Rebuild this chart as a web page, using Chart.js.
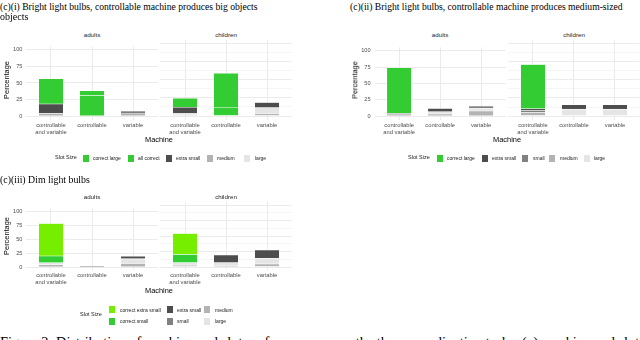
<!DOCTYPE html>
<html><head><meta charset="utf-8">
<script src="https://cdn.jsdelivr.net/npm/chart.js@4.4.0/dist/chart.umd.min.js"></script>
<style>
html,body{margin:0;padding:0;background:#fff;width:640px;height:340px;overflow:hidden;position:relative;font-family:"Liberation Sans",Arial,sans-serif;}
.t{position:absolute;white-space:nowrap;line-height:1;}
.serif{font-family:"Liberation Serif","Times New Roman",serif;color:#000;}
canvas{position:absolute;}
.key{position:absolute;width:6px;height:7px;}
</style></head><body>
<script>
// ---------- data ----------
const machines = [['controllable', 'and variable'], 'controllable', 'variable'];
const groups = ['adults', 'children'];
// each array: adults [c&v, controllable, variable], children [c&v, controllable, variable]
// Panel (i) Bright light bulbs, big objects
const p1CorrectLarge = [38, 7.5, 0, 12.5, 47, 0];
const p1AllCorrect   = [0, 31, 0, 0, 12, 0];
const p1ExtraSmall   = [14.5, 0, 2.5, 8.5, 0, 7];
const p1Medium       = [4, 0, 5, 2, 0, 3.5];
const p1Large        = [0, 0, 0, 1.5, 0, 8];
// Panel (ii) Bright light bulbs, medium-sized objects
const p2CorrectLarge = [69.5, 0, 0, 61.5, 0, 0];
const p2ExtraSmall   = [2, 5, 3, 2.5, 6, 6];
const p2Small        = [0, 0, 0, 2.5, 0, 0];
const p2Medium       = [2.5, 3.5, 8, 5, 0, 0];
const p2Large        = [0, 3.5, 4.5, 0, 9.5, 9.5];
// Panel (iii) Dim light bulbs
const p3CorrectExtraSmall = [58, 0, 0, 34, 0, 0];
const p3CorrectSmall      = [12, 0, 0, 13, 0, 0];
const p3ExtraSmall        = [0, 0, 4.5, 0, 12.5, 13.5];
const p3Small             = [0, 2, 0, 0, 0, 0];
const p3Medium            = [4.5, 0, 7, 3, 2, 5];
const p3Large             = [3.5, 0, 8, 4, 5, 9];
const yTickValues = [0, 25, 50, 75, 100];

const slotColors = {
  'correct large': '#33cc33', 'all correct': '#33cc33',
  'correct extra small': '#76ee00', 'correct small': '#32cd32',
  'extra small': '#4d4d4d', 'small': '#808080', 'medium': '#b3b3b3', 'large': '#e5e5e5'
};

const SANS = '"Liberation Sans", Arial, sans-serif';

function txt(s, x, y, o = {}) {
  const d = document.createElement('div');
  d.className = 't' + (o.cls ? ' ' + o.cls : '');
  d.textContent = s;
  d.style.fontSize = (o.size || 6) + 'px';
  d.style.color = o.color || '#1a1a1a';
  d.style.left = x + 'px'; d.style.top = y + 'px';
  const ax = o.align === 'left' ? '0' : '-50%';
  d.style.transform = `translate(${ax},-50%)` + (o.rot ? ` rotate(${o.rot}deg)` : '');
  document.body.appendChild(d);
  if (o.fitW) {
    const w = d.getBoundingClientRect().width;
    d.style.fontSize = (o.size * o.fitW / w) + 'px';
  }
  return d;
}

function facet(g, gi, showY, dsList) {
  const ppu = (g.y0 - g.y100) / 100;
  const yTop = g.y100 - 5 * ppu, yBot = g.y0 + 5 * ppu;
  const XH = 22, axW = showY ? 24 : 0;
  const cl = Math.floor(g.left - axW), ct = Math.floor(yTop);
  const cw = Math.ceil(g.left + g.w - cl) + 1, ch = Math.ceil(yBot + XH - ct);
  const c = document.createElement('canvas');
  c.width = cw; c.height = ch;
  c.style.left = cl + 'px'; c.style.top = ct + 'px';
  c.style.width = cw + 'px'; c.style.height = ch + 'px';
  document.body.appendChild(c);
  const yW = g.left - cl, padTop = yTop - ct;
  const padRight = cw - (g.left + g.w - cl);
  const xH = ch - (yBot - ct);
  const unit = g.w / 3.2;
  const datasets = dsList.map(([name, arr]) => ({
    label: name,
    data: [0, 1, 2].map(i => ({ x: i + 1, y: arr[gi * 3 + i] ? arr[gi * 3 + i] : null })),
    backgroundColor: slotColors[name],
    borderColor: 'rgba(255,255,255,0.7)', borderWidth: 0.6, borderSkipped: false,
    barThickness: unit * 0.6
  }));
  new Chart(c, {
    type: 'bar', data: { datasets },
    options: {
      responsive: false, animation: false, devicePixelRatio: 1,
      layout: { padding: { top: padTop, right: padRight, left: 0, bottom: 0 } },
      plugins: { legend: { display: false }, tooltip: { enabled: false }, title: { display: false } },
      scales: {
        x: {
          type: 'linear', stacked: true, min: 0.4, max: 3.6, offset: false,
          afterBuildTicks: s => { s.ticks = [1, 2, 3].map(v => ({ value: v })); },
          afterFit: s => { s.height = xH; },
          grid: { color: '#ebebeb', lineWidth: 1, drawTicks: false, offset: false },
          border: { display: false },
          ticks: { autoSkip: false, maxRotation: 0, minRotation: 0, padding: 2, color: '#4d4d4d',
                   font: { size: 5.8, family: SANS, lineHeight: 1.2 }, callback: v => machines[v - 1] }
        },
        y: {
          stacked: true, min: -5, max: 105,
          afterBuildTicks: s => { s.ticks = [0, 12.5, 25, 37.5, 50, 62.5, 75, 87.5, 100].map(v => ({ value: v })); },
          afterFit: s => { s.width = yW; },
          grid: { color: '#ebebeb', drawTicks: false, lineWidth: ctx => (ctx.tick && ctx.tick.value % 25 === 0) ? 1 : 0.5 },
          border: { display: false },
          ticks: { display: showY, padding: 4, color: '#4d4d4d', font: { size: 5.6, family: SANS },
                   callback: v => yTickValues.includes(v) ? String(v) : '' }
        }
      }
    }
  });
}

function legend(items, titlePos, titleY) {
  txt('Slot Size', titlePos, titleY, { size: 5.5, align: 'left' });
  items.forEach(([name, kx, tx, y]) => {
    const k = document.createElement('div');
    k.className = 'key'; k.style.left = kx + 'px'; k.style.top = (y - 3.5) + 'px';
    k.style.background = slotColors[name];
    document.body.appendChild(k);
    txt(name, tx, y, { size: 5, align: 'left' });
  });
}

function panel(p) {
  p.facets.forEach((g, gi) => {
    facet(g, gi, gi === 0, p.ds);
    txt(groups[gi], g.left + g.w / 2, p.stripY, { size: 6.2 });
  });
  txt('Percentage', p.percX, (p.facets[0].y0 + p.facets[0].y100) / 2, { size: 7.4, rot: -90, color: '#000' });
  txt('Machine', (p.facets[0].left + p.facets[1].left + p.facets[1].w) / 2, p.machY, { size: 7.4, color: '#000' });
}

// ---------- Panel (i) ----------
panel({
  facets: [{ left: 26.4, w: 131.2, y0: 116, y100: 43.5 }, { left: 160.4, w: 131.2, y0: 116, y100: 43.5 }],
  stripY: 34.5, percX: 7, machY: 139.5,
  ds: [['medium', p1Medium], ['large', p1Large], ['extra small', p1ExtraSmall], ['all correct', p1AllCorrect], ['correct large', p1CorrectLarge]]
});
legend([['correct large', 83, 93, 158], ['all correct', 128, 138, 158], ['extra small', 166, 176, 158], ['medium', 207, 217, 158], ['large', 244, 255, 158]], 55, 158);
txt('(c)(i) Bright light bulbs, controllable machine produces big objects', 0, 7, { size: 10, align: 'left', cls: 'serif', color: '#000', fitW: 258 });
txt('objects', 0, 16.5, { size: 10, align: 'left', cls: 'serif', color: '#000' });

// ---------- Panel (ii) ----------
panel({
  facets: [{ left: 374.5, w: 131.2, y0: 116, y100: 44 }, { left: 508.4, w: 131.2, y0: 116, y100: 44 }],
  stripY: 34.5, percX: 355, machY: 139.5,
  ds: [['medium', p2Medium], ['large', p2Large], ['small', p2Small], ['extra small', p2ExtraSmall], ['correct large', p2CorrectLarge]]
});
legend([['correct large', 437, 447, 158], ['extra small', 482, 492, 158], ['small', 522, 533, 158], ['medium', 549, 560, 158], ['large', 584, 594, 158]], 408, 158);
txt('(c)(ii) Bright light bulbs, controllable machine produces medium-sized', 350, 6.5, { size: 10, align: 'left', cls: 'serif', color: '#000', fitW: 273 });

// ---------- Panel (iii) ----------
panel({
  facets: [{ left: 26.4, w: 131.2, y0: 267, y100: 205 }, { left: 160.4, w: 131.2, y0: 267, y100: 205 }],
  stripY: 197, percX: 7, machY: 290.5,
  ds: [['medium', p3Medium], ['large', p3Large], ['small', p3Small], ['extra small', p3ExtraSmall], ['correct small', p3CorrectSmall], ['correct extra small', p3CorrectExtraSmall]]
});
legend([['correct extra small', 109, 120, 309.5], ['extra small', 167, 177, 309.5], ['medium', 204, 215, 309.5],
        ['correct small', 109, 120, 321], ['small', 167, 177, 321], ['large', 204, 215, 321]], 80, 315);
txt('(c)(iii) Dim light bulbs', 0, 180, { size: 10, align: 'left', cls: 'serif', color: '#000', fitW: 90 });

// caption (cut off at the bottom of the picture)
txt('Figure 2: Distribution of machine and slot preferences across the three coordination tasks: (c) machine and slot', 0, 342, { size: 13, align: 'left', cls: 'serif', color: '#000', fitW: 640 });
</script>
</body></html>
